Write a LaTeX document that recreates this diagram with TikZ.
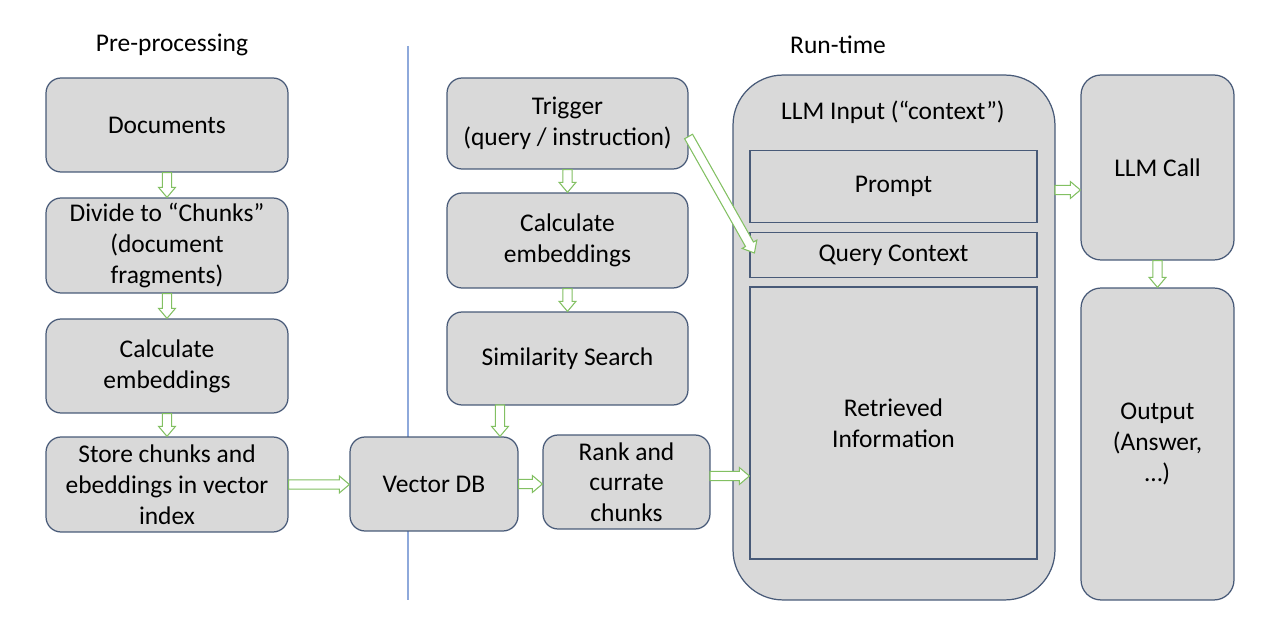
\documentclass[tikz,border=0pt]{standalone}
\usepackage{fontspec}
\setmainfont{Carlito}
\usetikzlibrary{calc}

\definecolor{boxfill}{HTML}{D9D9D9}
\definecolor{boxline}{HTML}{485A78}
\definecolor{flowgreen}{HTML}{82C062}
\definecolor{divider}{HTML}{8EA9DB}

% hollow block arrow between two points
\newcommand{\flow}[2]{%
  \coordinate (fa) at (#1);
  \coordinate (fb) at (#2);
  \coordinate (fh) at ($(fb)!5.7pt!(fa)$);
  \draw[flowline] ($(fa)!2.6pt!90:(fb)$) -- ($(fh)!2.6pt!90:(fb)$)
    -- ($(fh)!4.8pt!90:(fb)$) -- (fb) -- ($(fh)!4.8pt!-90:(fb)$)
    -- ($(fh)!2.6pt!-90:(fb)$) -- ($(fa)!2.6pt!-90:(fb)$) -- cycle;
}

\begin{document}
\begin{tikzpicture}[
                    x=0.02cm, y=-0.02cm,
                    every node/.style={font=\fontsize{14.5}{17.5}\selectfont},
                    box/.style={draw=boxline, fill=boxfill, line width=0.7pt,
                                rounded corners=0.3cm, align=center, inner sep=0pt,
                                minimum width=4.84cm},
                    inner/.style={draw=boxline, fill=boxfill, line width=0.7pt,
                                  align=center, inner sep=0pt, minimum width=5.74cm},
                    flowline/.style={draw=flowgreen, fill=white, line width=0.6pt, line join=miter}
                ]
                \useasboundingbox (0,0) rectangle (1269,621);

                % Headings and divider
                \node (pre) at (172,45) {Pre-processing};
                \node (run) at (838,45) {Run-time};
                \coordinate (d1) at (408,46);
                \coordinate (d2) at (408,600);
                \draw[divider, line width=0.6pt] (d1) -- (d2);

                % Pre-processing
                \node[box, minimum height=1.88cm] (Docs) at (167,125) {Documents};
                \node[box, minimum height=1.9cm] (Div) at (167,245.5) {Divide to “Chunks”\\(document\\fragments)};
                \node[box, minimum height=1.88cm] (CalcL) at (167,366) {Calculate\\embeddings};
                \node[box, minimum height=1.9cm] (Store) at (167,484.5) {Store chunks and\\ebeddings in vector\\index};
                \node[box, minimum width=3.36cm, minimum height=1.88cm] (VDB) at (434,484) {Vector DB};

                % Run-time
                \node[box, minimum width=4.82cm, minimum height=1.82cm] (Trig) at (567.5,123.5) {Trigger\\(query / instruction)};
                \node[box, minimum width=4.82cm, minimum height=1.9cm] (CalcR) at (567.5,240.5) {Calculate\\embeddings};
                \node[box, minimum width=4.82cm, minimum height=1.86cm] (Sim) at (567.5,358.5) {Similarity Search};
                \node[box, minimum width=3.34cm, minimum height=1.88cm] (Rank) at (626.5,482) {Rank and\\currate\\chunks};

                % LLM input with its parts
                \node[box, rounded corners=1cm, minimum width=6.44cm, minimum height=10.5cm] (LLMin) at (894,337.5) {};
                \node (LLMtitle) at (893,112) {LLM Input (“context”)};
                \node[inner, minimum height=1.44cm] (Prompt) at (893.5,186.5) {Prompt};
                \node[inner, minimum height=0.9cm] (QC) at (893.5,255) {Query Context};
                \node[inner, minimum height=5.44cm] (Ret) at (893.5,423) {Retrieved\\Information};

                \node[box, rounded corners=0.4cm, minimum width=3.06cm, minimum height=3.7cm] (Call) at (1157.5,167.5) {LLM Call};
                \node[box, rounded corners=0.4cm, minimum width=3.06cm, minimum height=6.24cm] (Out) at (1157.5,444) {Output\\(Answer,\\…)};

                % Connections
                \flow{Docs.south}{Div.north}
                \flow{Div.south}{CalcL.north}
                \flow{CalcL.south}{Store.north}
                \flow{Store.east}{Store.east -| VDB.west}
                \flow{Trig.south}{CalcR.north}
                \flow{CalcR.south}{Sim.north}
                \coordinate (s1) at (500,405);
                \flow{s1}{s1 |- VDB.north}
                \flow{VDB.east}{VDB.east -| Rank.west}
                \coordinate (r1) at (710,476);
                \flow{r1}{r1 -| Ret.west}
                \flow{$(Trig.east)+(0,13)$}{$(QC.west)+(5,-2)$}
                \coordinate (c1) at (1055,190);
                \flow{c1}{c1 -| Call.west}
                \flow{Call.south}{Out.north}
            \end{tikzpicture}
\end{document}
